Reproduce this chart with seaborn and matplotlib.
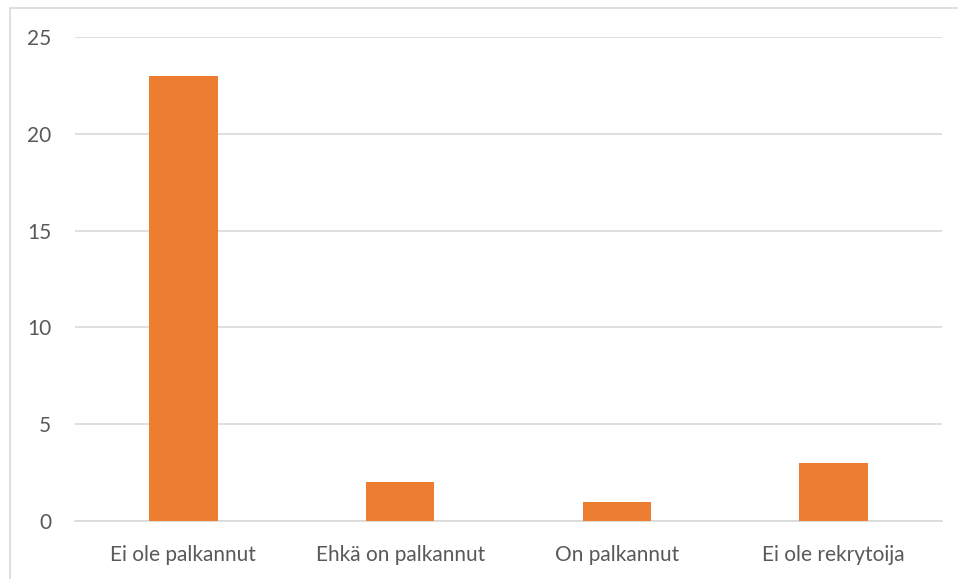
import matplotlib
matplotlib.use("Agg")
import matplotlib.pyplot as plt
from matplotlib.lines import Line2D
import seaborn as sns
import pandas as pd

categories = ["Ei ole palkannut", "Ehkä on palkannut", "On palkannut", "Ei ole rekrytoija"]
values = [23, 2, 1, 3]
y_ticks = [0, 5, 10, 15, 20, 25]

sns.set_theme(style="white")
plt.rcParams["font.family"] = ["Lato", "DejaVu Sans"]

df = pd.DataFrame({"category": categories, "value": values})

fig = plt.figure(figsize=(9.58, 5.79), dpi=100)
W, H = 958, 579
ax = fig.add_axes([75 / W, 1 - 521 / H, (942 - 75) / W, (521 - 37) / H])

sns.barplot(data=df, x="category", y="value", color="#ED7D31", width=0.315,
            saturation=1, linewidth=0, ax=ax, zorder=3)

ax.set_ylim(0, 25)
ax.set_xlim(-0.5, len(categories) - 0.5)
ax.set_yticks(y_ticks)
ax.set_yticklabels([str(t) for t in y_ticks])
ax.yaxis.grid(True, color="#d9d9d9", linewidth=1.2, zorder=0)
ax.set_axisbelow(True)
for side in ["top", "right", "left"]:
    ax.spines[side].set_visible(False)
ax.spines["bottom"].set_color("#d9d9d9")
ax.spines["bottom"].set_linewidth(1.2)
ax.tick_params(axis="both", length=0, labelsize=15, colors="#595959")
ax.tick_params(axis="y", pad=17)
ax.tick_params(axis="x", pad=17)
ax.set_xlabel("")
ax.set_ylabel("")

# chart area frame (top and left edges)
fig.add_artist(Line2D([10 / W, 10 / W], [0, 1 - 8 / H], color="#d9d9d9", lw=1.2,
                      transform=fig.transFigure))
fig.add_artist(Line2D([10 / W, 1], [1 - 8 / H, 1 - 8 / H], color="#d9d9d9", lw=1.2,
                      transform=fig.transFigure))

fig.savefig("out.png", dpi=100, facecolor="white")
